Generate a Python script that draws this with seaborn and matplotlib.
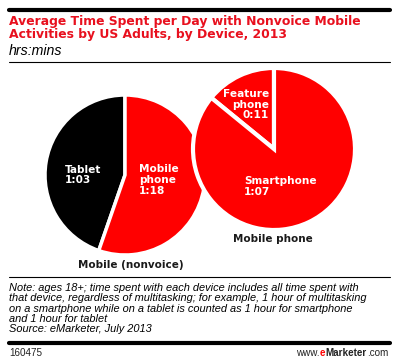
import matplotlib
matplotlib.use("Agg")
import matplotlib.pyplot as plt
import seaborn as sns

sns.set_theme(style="white")
plt.rcParams['font.family'] = ['DejaVu Sans']

# Data (minutes)
nonvoice_labels = ["Tablet", "Mobile phone"]
nonvoice_values = [63, 78]
nonvoice_text = ["Tablet\n1:03", "Mobile\nphone\n1:18"]
phone_labels = ["Feature phone", "Smartphone"]
phone_values = [11, 67]
phone_text = ["Feature\nphone\n0:11", "Smartphone\n1:07"]
group_titles = ["Mobile (nonvoice)", "Mobile phone"]

RED = "#FF0000"
TRED = "#E8101E"
W, H = 399, 362

fig = plt.figure(figsize=(W / 100, H / 100), dpi=100)
fig.patch.set_facecolor("white")
ax = fig.add_axes([0, 0, 1, 1])

def Y(y):
    return H - y

ax.pie(nonvoice_values, center=(125, Y(175)), radius=80, startangle=90,
       counterclock=True, colors=["#000000", RED],
       wedgeprops=dict(edgecolor="white", linewidth=2.5), frame=True)
ax.pie(phone_values, center=(274, Y(149)), radius=81, startangle=90,
       counterclock=True, colors=[RED, RED],
       wedgeprops=dict(edgecolor="white", linewidth=3.0), frame=True)
ax.set_xlim(0, W)
ax.set_ylim(0, H)
ax.set_aspect("equal")
ax.axis("off")

lab = dict(color="white", fontweight="bold", fontsize=7.6, linespacing=1.1)
ax.text(65, Y(175), nonvoice_text[0], ha="left", va="center", **lab)
ax.text(139, Y(180), nonvoice_text[1], ha="left", va="center", **lab)
ax.text(269, Y(104.5), phone_text[0], ha="right", va="center", **lab)
ax.text(244, Y(186.5), phone_text[1], ha="left", va="center", **lab)

ax.text(131, Y(265), group_titles[0], ha="center", va="center",
        fontsize=7.5, fontweight="bold", color="#1a1a1a")
ax.text(272.5, Y(239), group_titles[1], ha="center", va="center",
        fontsize=7.5, fontweight="bold", color="#1a1a1a")

def fx(x):
    return x / W

def fy(y):
    return 1 - y / H

# rules
from matplotlib.lines import Line2D
for y, lw in [(10, 3.0), (62, 0.8), (277, 0.8), (343, 3.0)]:
    fig.add_artist(Line2D([fx(9), fx(390)], [fy(y), fy(y)], color="black",
                          linewidth=lw, transform=fig.transFigure))

fig.text(fx(9), fy(28), "Average Time Spent per Day with Nonvoice Mobile\nActivities by US Adults, by Device, 2013",
         ha="left", va="center", color=TRED, fontsize=8.9, fontweight="bold",
         linespacing=1.05)
fig.text(fx(9), fy(51), "hrs:mins", ha="left", va="center", fontsize=10.2,
         style="italic", family="Liberation Sans", color="black")

note = ("Note: ages 18+; time spent with each device includes all time spent with\n"
        "that device, regardless of multitasking; for example, 1 hour of multitasking\n"
        "on a smartphone while on a tablet is counted as 1 hour for smartphone\n"
        "and 1 hour for tablet\n"
        "Source: eMarketer, July 2013")
fig.text(fx(9), fy(308.5), note, ha="left", va="center", fontsize=7.9,
         style="italic", family="Liberation Sans", color="black", linespacing=1.04)

FS = 7.1
fig.text(fx(9), fy(353), "160475", ha="left", va="center", fontsize=7.1,
         family="Liberation Sans", color="#222222")
t1 = fig.text(fx(388), fy(353), ".com", ha="right", va="center", fontsize=FS,
              family="Liberation Sans", color="#222222")
fig.canvas.draw()
r = fig.canvas.get_renderer()
bb = t1.get_window_extent(r)
t2 = fig.text(bb.x0 / W, fy(353), "Marketer", ha="right", va="center", fontsize=FS,
              family="Liberation Sans", fontweight="bold", color="#222222")
bb = t2.get_window_extent(r)
t3 = fig.text(bb.x0 / W, fy(353), "e", ha="right", va="center", fontsize=FS,
              family="Liberation Sans", fontweight="bold", color=RED)
bb = t3.get_window_extent(r)
fig.text(bb.x0 / W, fy(353), "www.", ha="right", va="center", fontsize=FS,
         family="Liberation Sans", color="#222222")

fig.savefig("out.png", dpi=100, facecolor="white")
